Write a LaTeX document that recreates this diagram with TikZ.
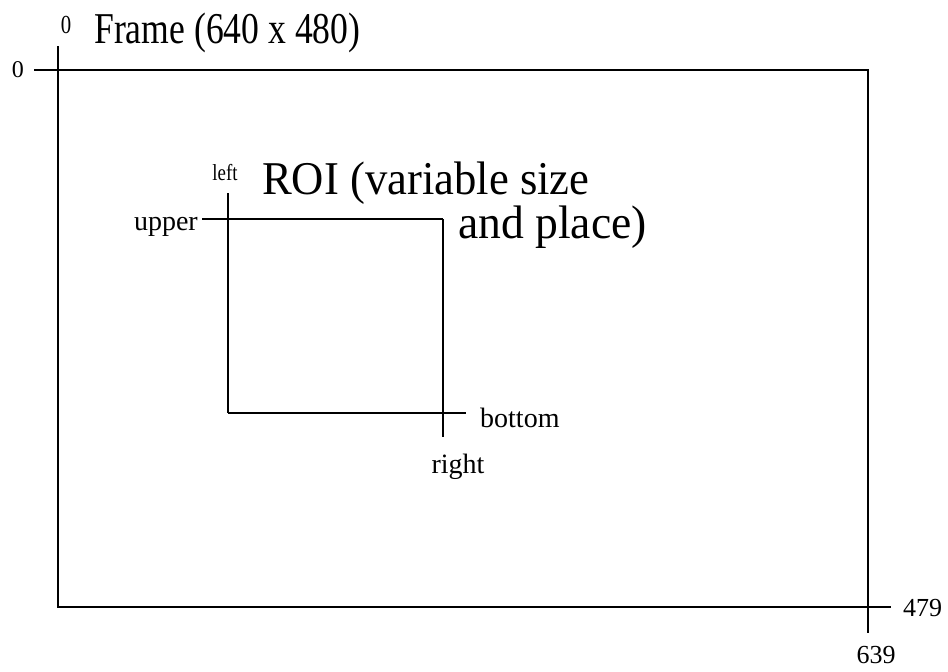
\documentclass[tikz,border=0pt]{standalone}
\usepackage{fontspec}
\setmainfont{Liberation Serif}
\begin{document}
\begin{tikzpicture}[x=1pt,y=-1pt,
  frameline/.style={line width=1.6pt,line cap=rect},
  roiline/.style={line width=1.2pt},
  lbl/.style={inner sep=0pt,font=\fontsize{28}{30}\selectfont},
  tick/.style={inner sep=0pt,font=\fontsize{24}{28}\selectfont}]
\useasboundingbox (0,0) rectangle (948,672);
% frame corners
\coordinate (ftl) at (58,70);
\coordinate (ftr) at (868,70);
\coordinate (fbl) at (58,607);
\coordinate (fbr) at (868,607);
\coordinate (fx0) at (35,70);
\coordinate (fy0) at (58,47);
\coordinate (fxe) at (890,607);
\coordinate (fye) at (868,632);
\draw[frameline] (fx0) -- (ftr);
\draw[frameline] (fy0) -- (fbl);
\draw[frameline] (fbl) -- (fxe);
\draw[frameline] (ftr) -- (fye);
% frame labels
\node[tick,anchor=east] (zl) at (24,70) {0};
\node[tick,font=\fontsize{26}{28}\selectfont,anchor=base] (zt) at (66,33) {\scalebox{0.8}[1]{0}};
\node[inner sep=0pt,anchor=base west] (title) at (94,43)
  {\fontsize{44}{46}\selectfont\scalebox{0.81}[1]{Frame (640 x 480)}};
\node[tick,font=\fontsize{26}{30}\selectfont,anchor=west] (n479) at (903,608) {479};
\node[tick,font=\fontsize{26}{30}\selectfont] (n639) at (876,655) {639};
% ROI
\coordinate (rtl) at (228,219);
\coordinate (rtr) at (443,219);
\coordinate (rbl) at (228,413);
\coordinate (rbr) at (443,413);
\coordinate (rup) at (202,219);
\coordinate (rlf) at (228,193);
\coordinate (rbt) at (466,413);
\coordinate (rrt) at (443,437);
\draw[roiline] (rup) -- (rtr);
\draw[roiline] (rlf) -- (rbl);
\draw[roiline] (rbl) -- (rbt);
\draw[roiline] (rtr) -- (rrt);
\node[lbl,anchor=base east] (upper) at (198,230) {upper};
\node[lbl,font=\fontsize{23}{26}\selectfont,anchor=base] (left) at (225,180) {\scalebox{0.82}[1]{left}};
\node[lbl,anchor=base west] (bottom) at (480,427) {bottom};
\node[lbl,anchor=base] (right) at (458,473) {right};
\node[inner sep=0pt,anchor=base west,align=left,
  font=\fontsize{47}{33}\selectfont] (roi) at (262,238)
  {\scalebox{0.95}[1]{ROI (variable size}\\[0pt]\hspace*{196pt}\scalebox{0.97}[1]{and place)}};
\end{tikzpicture}
\end{document}
